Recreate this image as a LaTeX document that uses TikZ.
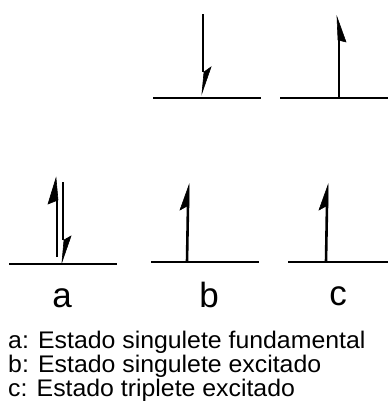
\documentclass[tikz,border=0pt]{standalone}
\usepackage{fontspec}
\setmainfont{Liberation Sans}
\begin{document}
\begin{tikzpicture}[x=1pt,y=-1pt,
  level/.style={line width=1.8pt},
  shaft/.style={line width=2.6pt},
  head/.style={fill=black,draw=black,line width=0.6pt,line join=miter},
  biglabel/.style={font=\fontsize{35}{35}\selectfont,anchor=base},
  legend/.style={font=\fontsize{24}{24}\selectfont,anchor=base west,inner sep=0pt,xscale=1.035}]
\useasboundingbox (0,0) rectangle (389,407);
% levels
\draw[level] (9,264) -- (117,264);
\draw[level] (151,262) -- (259,262);
\draw[level] (288,262) -- (388,262);
\draw[level] (153,98) -- (261,98);
\draw[level] (280,98) -- (388,98);
% a: up and down
\draw[shaft] (57,257) -- (57,200);
\draw[head] (56,178) -- (48,204) -- (58,200) -- cycle;
\draw[shaft] (63,182) -- (63,240);
\draw[head] (62,262) -- (71,236) -- (64,240) -- cycle;
% b lower
\draw[shaft] (187,262) -- (188,205);
\draw[head] (189,185) -- (180,210) -- (189,205) -- cycle;
% c lower
\draw[shaft] (326,262) -- (327,205);
\draw[head] (328,185) -- (319,210) -- (328,205) -- cycle;
% top left down
\draw[shaft] (203,14) -- (203,72);
\draw[head] (202,93) -- (211,67) -- (204,72) -- cycle;
% top right up
\draw[shaft] (339,97) -- (339,40);
\draw[head] (337,17) -- (346,42) -- (338,40) -- cycle;
% labels
\node[biglabel] (la) at (62,307) {a};
\node[biglabel] (lb) at (209,307) {b};
\node[biglabel] (lc) at (338,305) {c};
\node[legend] (t1) at (8,348) {a: Estado singulete fundamental};
\node[legend] (t2) at (8,372) {b: Estado singulete excitado};
\node[legend] (t3) at (8,396) {c: Estado triplete excitado};
\end{tikzpicture}
\end{document}
